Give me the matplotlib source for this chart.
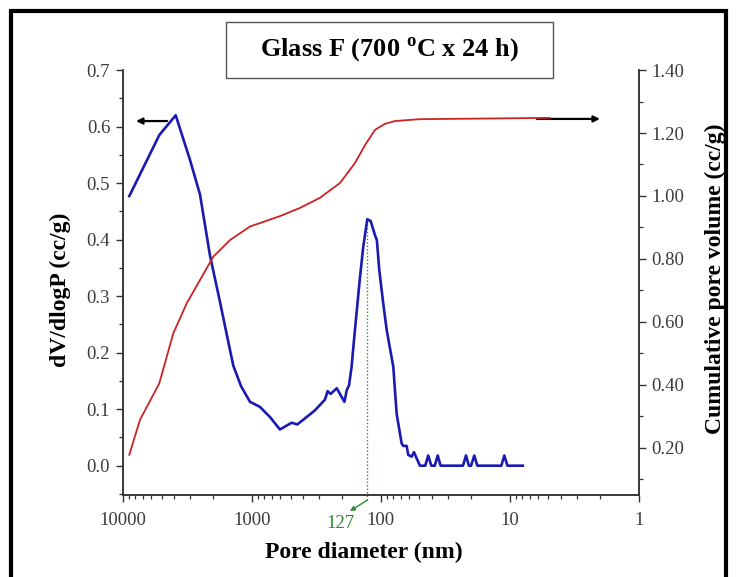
import matplotlib
matplotlib.use("Agg")
import matplotlib.pyplot as plt
from matplotlib.patches import Rectangle
from matplotlib.ticker import FixedLocator, LogLocator, MultipleLocator, NullFormatter

plt.rcParams['font.family'] = ['Liberation Serif', 'DejaVu Serif']
plt.rcParams['mathtext.fontset'] = 'custom'
plt.rcParams['mathtext.rm'] = 'Liberation Serif:bold'
plt.rcParams['mathtext.bf'] = 'Liberation Serif:bold'

# Differential pore volume distribution (dV/dlogP, cc/g) vs pore diameter (nm)
diff_diam = [8890, 5203, 3882, 3008, 2517, 2106, 1762, 1528, 1389, 1211, 1031,
             863, 721, 604, 490, 443, 375, 323, 270, 258, 244, 219, 191, 183,
             176, 168, 161, 145, 136.5, 127, 119.6, 110.7, 107, 102.5, 95.5,
             89.8, 79.8, 75.2, 68.7, 66.8, 62.9, 61.1, 57.5, 55.2, 52.6, 49.6,
             45.1, 42.8, 40.5, 38.1, 36.1, 34.3, 23.0, 21.8, 20.7, 19.9, 18.8,
             17.8, 11.6, 11.0, 10.4, 7.9]
diff_vol = [0.477, 0.585, 0.620, 0.541, 0.480, 0.372, 0.290, 0.222, 0.177, 0.141, 0.113,
            0.104, 0.086, 0.064, 0.076, 0.073, 0.086, 0.098, 0.117, 0.132, 0.127, 0.137,
            0.113, 0.134, 0.142, 0.175, 0.222, 0.331, 0.387, 0.436, 0.433, 0.408, 0.399,
            0.346, 0.287, 0.240, 0.175, 0.092, 0.039, 0.035, 0.035, 0.019, 0.016, 0.024,
            0.013, 0.0, 0.0, 0.018, 0.0, 0.0, 0.018, 0.0, 0.0, 0.018, 0.0, 0.0, 0.018,
            0.0, 0.0, 0.018, 0.0, 0.0]

# Cumulative pore volume (cc/g) vs pore diameter (nm)
cum_diam = [8890, 7345, 5203, 4052, 3190, 2517, 1986, 1473, 1031, 604, 422.5,
            296, 207, 158, 132, 110.7, 92.7, 77.5, 49.6, 4.9]
cum_vol = [0.178, 0.289, 0.405, 0.564, 0.659, 0.733, 0.807, 0.860, 0.903, 0.936,
           0.962, 0.994, 1.041, 1.105, 1.162, 1.210, 1.229, 1.238, 1.244, 1.248]

peak_diam = 127
peak_val = 0.436

x_ticks = [10000, 1000, 100, 10, 1]
x_tick_labels = ['10000', '1000', '100', '10', '1']
left_ticks = [0.0, 0.1, 0.2, 0.3, 0.4, 0.5, 0.6, 0.7]
right_ticks = [0.20, 0.40, 0.60, 0.80, 1.00, 1.20, 1.40]

title_text = r'Glass F (700 $^{\mathrm{o}}$C x 24 h)'

blue = '#1a1ab0'
red = '#cc2222'
green = '#2e8b2e'
spine_c = '#333333'
label_c = '#3c3c3c'

fig = plt.figure(figsize=(7.37, 5.77), dpi=100)

# outer frame
fig.patches.append(Rectangle((0.0155, -0.05), 0.969, 1.031, transform=fig.transFigure,
                             fill=False, edgecolor='black', linewidth=3.0))

ax = fig.add_axes([0.1665, 0.142, 0.700, 0.7366])
ax2 = ax.twinx()

ax.plot(diff_diam, diff_vol, color=blue, linewidth=1.9, zorder=3)
ax2.plot(cum_diam, cum_vol, color=red, linewidth=1.3, zorder=2)

ax.set_xscale('log')
ax.set_xlim(10000, 1)
ax.set_ylim(-0.052, 0.7)
ax2.set_ylim(0.05, 1.40)

ax.xaxis.set_major_locator(FixedLocator(x_ticks))
ax.set_xticklabels(x_tick_labels)
ax.xaxis.set_minor_locator(LogLocator(base=10, subs=[2, 3, 4, 5, 6, 7, 8, 9], numticks=20))
ax.xaxis.set_minor_formatter(NullFormatter())

ax.yaxis.set_major_locator(FixedLocator(left_ticks))
ax.set_yticklabels([f'{v:.1f}' for v in left_ticks])
ax.yaxis.set_minor_locator(MultipleLocator(0.05))
ax2.yaxis.set_major_locator(FixedLocator(right_ticks))
ax2.set_yticklabels([f'{v:.2f}' for v in right_ticks])
ax2.yaxis.set_minor_locator(MultipleLocator(0.1))

for a in (ax, ax2):
    a.spines['top'].set_visible(False)
    for s in a.spines.values():
        s.set_color(spine_c)
        s.set_linewidth(1.1)
    a.tick_params(which='major', direction='out', length=5, width=1.0, color=spine_c,
                  labelsize=13.5, labelcolor=label_c, pad=4)
    a.tick_params(which='minor', direction='out', length=3, width=0.9, color=spine_c)
ax.tick_params(axis='x', which='major', pad=7)

ax.set_ylabel('dV/dlogP (cc/g)', fontsize=17, fontweight='bold')
ax.yaxis.set_label_coords(-0.1215, 0.482)
ax.yaxis.label.set_va('center')
ax2.set_ylabel('Cumulative pore volume (cc/g)', fontsize=17, fontweight='bold')
ax2.yaxis.set_label_coords(1.148, 0.509)
ax2.yaxis.label.set_va('center')
ax.set_xlabel('Pore diameter (nm)', fontsize=17, fontweight='bold')
ax.xaxis.set_label_coords(0.468, -0.136)
ax.xaxis.label.set_va('center')

# peak marker: dotted drop line and value label
ax.vlines(peak_diam, -0.061, peak_val, colors=green, linestyles=(0, (1, 1.5)),
          linewidth=1.0, clip_on=False, zorder=1)
ax.annotate('', xy=(0.4405, -0.0376), xytext=(0.474, -0.012), xycoords='axes fraction',
            textcoords='axes fraction', annotation_clip=False,
            arrowprops=dict(arrowstyle='-|>', color=green, lw=1.0, mutation_scale=7,
                            shrinkA=0, shrinkB=0))
ax.text(0.4217, -0.068, str(peak_diam), transform=ax.transAxes, color=green, fontsize=13.5,
        ha='center', va='center', clip_on=False)

# axis indicator arrows
ax.annotate('', xy=(0.0258, 0.88), xytext=(0.0859, 0.88), xycoords='axes fraction',
            textcoords='axes fraction',
            arrowprops=dict(arrowstyle='-|>', color='black', lw=1.6, mutation_scale=9,
                            shrinkA=0, shrinkB=0))
ax.annotate('', xy=(0.925, 0.885), xytext=(0.803, 0.885), xycoords='axes fraction',
            textcoords='axes fraction',
            arrowprops=dict(arrowstyle='-|>', color='black', lw=1.6, mutation_scale=9,
                            shrinkA=0, shrinkB=0))

# title box
bx0, bx1 = 226 / 737, 553 / 737
by0, by1 = 1 - 78 / 577, 1 - 22 / 577
fig.patches.append(Rectangle((bx0, by0), bx1 - bx0, by1 - by0, transform=fig.transFigure,
                             fill=False, edgecolor='#555555', linewidth=1.0))
fig.text((bx0 + bx1) / 2, (by0 + by1) / 2, title_text, fontsize=19, fontweight='bold',
         ha='center', va='center')

fig.savefig('out.png', dpi=100)
